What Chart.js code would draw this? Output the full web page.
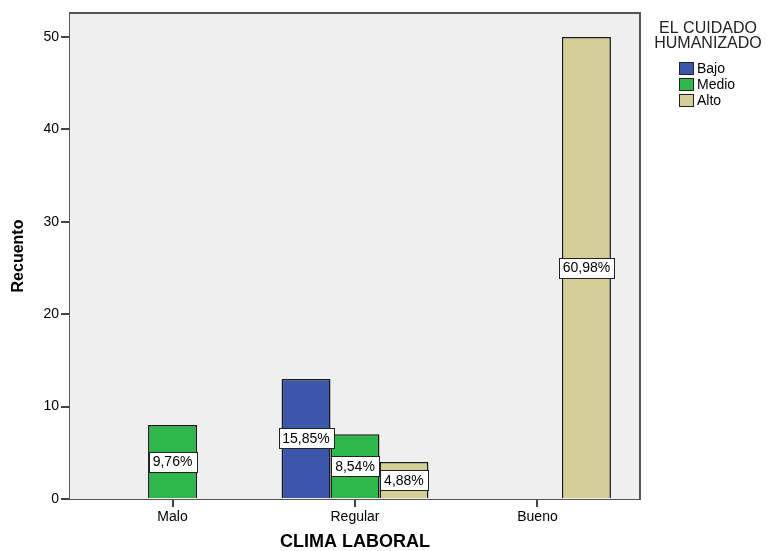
<!DOCTYPE html>
<html>
<head>
<meta charset="utf-8">
<script src="https://cdn.jsdelivr.net/npm/chart.js@4/dist/chart.umd.min.js"></script>
<style>
html, body { margin: 0; padding: 0; background: #fff; }
</style>
</head>
<body>
<canvas id="chart" width="767" height="551"></canvas>
<script>
// counts per clima category, one array per level of cuidado
const categories = ['Malo', 'Regular', 'Bueno'];
const seriesNames = ['Bajo', 'Medio', 'Alto'];
const bajo = [null, 13, null];
const medio = [8, 7, null];
const alto = [null, 4, 50];
const yTicks = [0, 10, 20, 30, 40, 50];
const legendTitle = ['EL CUIDADO', 'HUMANIZADO'];

const colors = ['#3c56a9', '#2eb84b', '#d4ce97'];
const FONT = '"Liberation Sans", Arial, sans-serif';

const seriesData = [bajo, medio, alto];
const total = seriesData.flat().reduce((a, b) => a + (b || 0), 0);

// background + frame around the plot
const plotFrame = {
    id: 'plotFrame',
    beforeDatasetsDraw(chart) {
        const { ctx, chartArea: a } = chart;
        ctx.save();
        ctx.fillStyle = '#efefef';
        ctx.fillRect(a.left, a.top, a.right - a.left, a.bottom - a.top);
        ctx.restore();
    },
    afterDraw(chart) {
        const { ctx, chartArea: a } = chart;
        ctx.save();
        ctx.strokeStyle = '#555';
        ctx.lineWidth = 2;
        ctx.beginPath();
        ctx.moveTo(a.left, a.top);
        ctx.lineTo(a.right, a.top);
        ctx.lineTo(a.right, a.bottom);
        ctx.stroke();
        ctx.restore();
    }
};

// percentage of total in a white box at the middle of each bar
const pctLabels = {
    id: 'pctLabels',
    afterDatasetsDraw(chart) {
        const { ctx } = chart;
        ctx.save();
        ctx.font = '14px ' + FONT;
        ctx.textAlign = 'center';
        ctx.textBaseline = 'middle';
        chart.data.datasets.forEach((ds, i) => {
            chart.getDatasetMeta(i).data.forEach((bar, j) => {
                const v = ds.data[j];
                if (v == null) return;
                const txt = (v / total * 100).toFixed(2).replace('.', ',') + '%';
                const w = Math.round(ctx.measureText(txt).width + 8);
                const h = 20;
                const cy = (bar.y + bar.base) / 2;
                const x0 = Math.round(bar.x - w / 2), y0 = Math.round(cy - h / 2);
                ctx.fillStyle = '#fff';
                ctx.fillRect(x0, y0, w, h);
                ctx.strokeStyle = '#222';
                ctx.lineWidth = 1;
                ctx.strokeRect(x0 + 0.5, y0 + 0.5, w, h);
                ctx.fillStyle = '#000';
                ctx.fillText(txt, bar.x, cy + 1);
            });
        });
        ctx.restore();
    }
};

// legend block on the right
const sideLegend = {
    id: 'sideLegend',
    afterDraw(chart) {
        const { ctx } = chart;
        ctx.save();
        ctx.fillStyle = '#222';
        ctx.font = '16px ' + FONT;
        ctx.textAlign = 'center';
        ctx.textBaseline = 'middle';
        legendTitle.forEach((t, i) => ctx.fillText(t, 708, 29 + i * 15));
        ctx.font = '14px ' + FONT;
        ctx.textAlign = 'left';
        chart.data.datasets.forEach((ds, i) => {
            const y = 68 + i * 16;
            ctx.fillStyle = ds.backgroundColor;
            ctx.fillRect(679, y - 6, 14, 12);
            ctx.strokeStyle = '#222';
            ctx.lineWidth = 1;
            ctx.strokeRect(679.5, y - 5.5, 14, 12);
            ctx.fillStyle = '#000';
            ctx.fillText(ds.label, 697, y + 1);
        });
        ctx.restore();
    }
};

const ctx = document.getElementById('chart').getContext('2d');
const myChart = new Chart(ctx, {
    type: 'bar',
    data: {
        labels: categories,
        datasets: seriesNames.map((name, i) => ({
            label: name,
            data: seriesData[i],
            backgroundColor: colors[i],
            borderColor: '#1a1a1a',
            borderWidth: 1.5,
            categoryPercentage: 0.805,
            barPercentage: 1
        }))
    },
    options: {
        responsive: false,
        animation: false,
        layout: { padding: { top: 13, right: 127, left: 0, bottom: 0 } },
        plugins: {
            legend: { display: false },
            tooltip: { enabled: false }
        },
        scales: {
            x: {
                offset: true,
                // a bit of extra room either side of the outer categories
                afterBuildTicks(s) {
                    s._startValue = -0.562;
                    s._valueRange = 3.124;
                },
                afterFit(s) { s.height = 52; },
                grid: { display: true, drawOnChartArea: false, offset: false, tickLength: 8, color: '#444', lineWidth: 2 },
                border: { display: true, color: '#555', width: 2 },
                ticks: { color: '#000', font: { family: FONT, size: 14 }, padding: 2 },
                title: {
                    display: true, text: 'CLIMA LABORAL', color: '#000',
                    font: { family: FONT, size: 18, weight: 'bold', lineHeight: 1 },
                    padding: { top: 0, bottom: 0 }
                }
            },
            y: {
                min: 0,
                max: 52.6,
                afterBuildTicks(s) { s.ticks = yTicks.map(v => ({ value: v })); },
                afterFit(s) { s.width = 70; },
                grid: { display: true, drawOnChartArea: false, tickLength: 9, color: '#444', lineWidth: 2 },
                border: { display: true, color: '#555', width: 2 },
                ticks: { color: '#000', font: { family: FONT, size: 14 }, padding: 2 },
                title: {
                    display: true, text: 'Recuento', color: '#000',
                    font: { family: FONT, size: 16, weight: 'bold', lineHeight: 1 },
                    padding: { top: 11, bottom: 4 }
                }
            }
        }
    },
    plugins: [plotFrame, pctLabels, sideLegend]
});
</script>
</body>
</html>
